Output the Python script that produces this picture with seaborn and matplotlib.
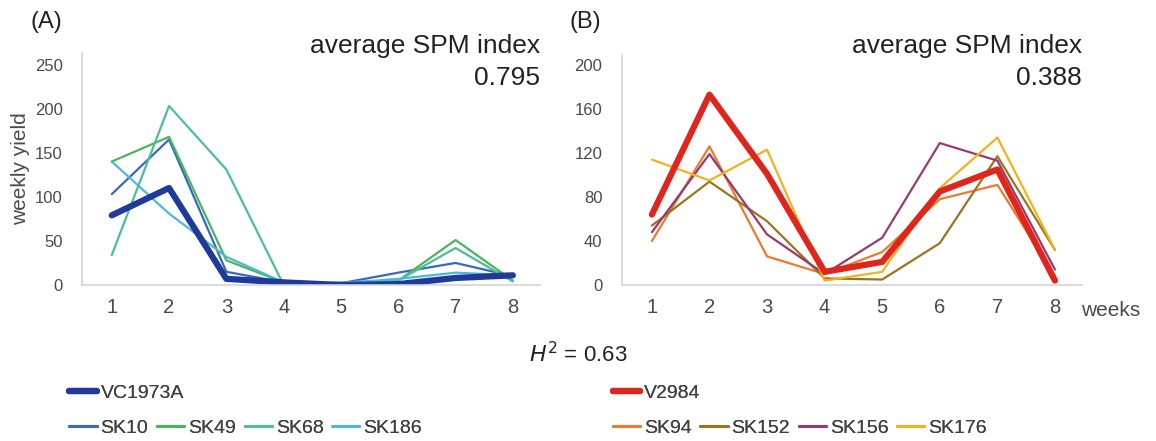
import matplotlib.pyplot as plt
from matplotlib.lines import Line2D
import seaborn as sns
import numpy as np
import pandas as pd

weeks = [1, 2, 3, 4, 5, 6, 7, 8]

# panel A
vc1973a = [79, 110, 7, 3, 0, 1, 8, 11]
sk10 = [103, 165, 15, 3, 2, 14, 25, 10]
sk49 = [140, 168, 28, 3, 2, 5, 51, 5]
sk68 = [34, 203, 131, 0, 3, 5, 42, 4]
sk186 = [140, 81, 32, 3, 2, 7, 14, 11]

# panel B
v2984 = [64, 173, 101, 12, 21, 85, 105, 4]
sk94 = [40, 126, 26, 10, 30, 78, 91, 8]
sk152 = [54, 94, 58, 6, 5, 38, 117, 32]
sk156 = [48, 119, 46, 10, 43, 129, 113, 14]
sk176 = [114, 95, 123, 4, 12, 88, 134, 32]

names_a = ['VC1973A', 'SK10', 'SK49', 'SK68', 'SK186']
names_b = ['V2984', 'SK94', 'SK152', 'SK156', 'SK176']
colors_a = ['#1f3a9a', '#3a67c0', '#4ab55c', '#4cbf96', '#4bbad6']
colors_b = ['#e0261c', '#ec7a2e', '#977620', '#993a6c', '#f3b21c']

df_a = pd.DataFrame({'week': weeks * 5,
                     'yield': vc1973a + sk10 + sk49 + sk68 + sk186,
                     'line': np.repeat(names_a, 8)})
df_b = pd.DataFrame({'week': weeks * 5,
                     'yield': v2984 + sk94 + sk152 + sk156 + sk176,
                     'line': np.repeat(names_b, 8)})

sns.set_style('white')
plt.rcParams['font.family'] = ['Liberation Sans', 'DejaVu Sans']

fig = plt.figure(figsize=(11.56, 4.41), dpi=100)
ax1 = fig.add_axes([0.0709, 0.3537, 0.396, 0.526])
ax2 = fig.add_axes([0.538, 0.3537, 0.398, 0.5215])

def draw_panel(ax, df, names, cols, ymax, yticks):
    # thin lines first, the thick parent line on top
    for n, c in list(zip(names, cols))[1:]:
        sns.lineplot(data=df[df['line'] == n], x='week', y='yield', color=c,
                     linewidth=1.6, ax=ax, legend=False)
    sns.lineplot(data=df[df['line'] == names[0]], x='week', y='yield', color=cols[0],
                 linewidth=4.5, ax=ax, legend=False, solid_capstyle='round')
    ax.set_xlim(0.48, 8.47)
    ax.set_ylim(0, ymax)
    ax.set_xticks(weeks)
    ax.set_yticks(yticks)
    ax.tick_params(axis='x', labelsize=14.5, colors='#4a4a4a', length=0, pad=9)
    ax.tick_params(axis='y', labelsize=12, colors='#4a4a4a', length=0, pad=14)
    for s in ['top', 'right']:
        ax.spines[s].set_visible(False)
    for s in ['left', 'bottom']:
        ax.spines[s].set_color('#d4d4d4')
        ax.spines[s].set_linewidth(1.2)
    ax.set_xlabel('')
    ax.set_ylabel('')

draw_panel(ax1, df_a, names_a, colors_a, 263, [0, 50, 100, 150, 200, 250])
draw_panel(ax2, df_b, names_b, colors_b, 209, [0, 40, 80, 120, 160, 200])

for xr, spm in [(0.467, '0.795'), (0.936, '0.388')]:
    fig.text(xr, 0.880, 'average SPM index', ha='right', va='baseline',
             fontsize=19, color='#222222')
    fig.text(xr, 0.807, spm, ha='right', va='baseline', fontsize=19, color='#222222')

ax1.set_ylabel('weekly yield', fontsize=15, color='#4a4a4a', labelpad=3)
ax2.text(1.063, -0.11, 'weeks', transform=ax2.transAxes, ha='center', va='center',
         fontsize=15, color='#4a4a4a')

fig.text(0.026, 0.95, '(A)', fontsize=17, color='#222222', va='center')
fig.text(0.493, 0.95, '(B)', fontsize=17, color='#222222', va='center')
fig.text(0.5, 0.195, r'$H^2$ = 0.63', fontsize=16, color='#222222', ha='center', va='center')

def add_legend(names, cols, x0):
    h1 = [Line2D([], [], color=cols[0], linewidth=4.5, solid_capstyle='round')]
    l1 = fig.legend(h1, [names[0]], loc='center left', bbox_to_anchor=(x0, 0.108),
                    frameon=False, fontsize=14, handlelength=1.4, handletextpad=0.2,
                    borderaxespad=0, borderpad=0)
    for t in l1.get_texts():
        t.set_color('#404040')
    fig.add_artist(l1)
    h2 = [Line2D([], [], color=c, linewidth=2.2) for c in cols[1:]]
    l2 = fig.legend(h2, names[1:], loc='center left', bbox_to_anchor=(x0, 0.030),
                    frameon=False, fontsize=14, handlelength=1.4, handletextpad=0.2,
                    ncol=4, columnspacing=0.45, borderaxespad=0, borderpad=0)
    for t in l2.get_texts():
        t.set_color('#404040')
    fig.add_artist(l2)

add_legend(names_a, colors_a, 0.060)
add_legend(names_b, colors_b, 0.530)

fig.savefig('out.png', dpi=100)
